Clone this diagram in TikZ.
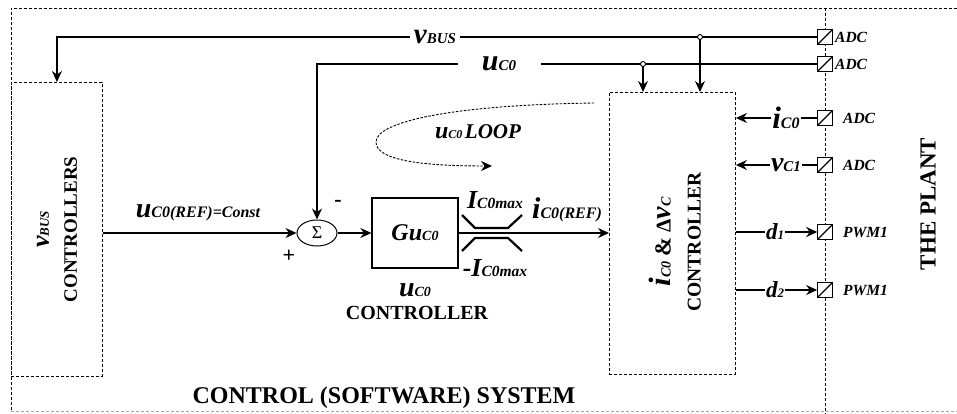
\documentclass[tikz,border=0pt]{standalone}
\usepackage{fontspec}
\setmainfont{Liberation Serif}
\usepackage{tikz}
\usetikzlibrary{positioning,arrows.meta,shapes.geometric}
% signal name: big letter + small subscript on the same baseline
\newcommand{\vlab}[4]{{\bfseries\itshape\fontsize{#3}{#3}\selectfont #1\fontsize{#4}{#4}\selectfont #2}}
\newcommand{\fs}[1]{\fontsize{#1}{#1}\selectfont}
\tikzset{
  frame/.style={dash pattern=on 3pt off 2pt, line width=0.9pt},
  ctlbox/.style={draw, dash pattern=on 3pt off 2pt, line width=0.9pt, anchor=north west, inner sep=0pt},
  blk/.style={draw, line width=1.3pt, inner sep=0pt},
  conv/.style={draw, line width=1.2pt, fill=white, minimum size=14.5pt, inner sep=0pt,
    path picture={\draw[line width=1.2pt] (path picture bounding box.south west) -- (path picture bounding box.north east);}},
  wire/.style={line width=1.3pt},
  sig/.style={wire, -{Stealth[length=11pt,width=10pt]}},
  dot/.style={circle, draw, fill=white, inner sep=0pt, minimum size=5pt, line width=0.9pt},
  lab/.style={inner sep=1pt},
  txt/.style={font=\bfseries, align=center},
  adclab/.style={font={\bfseries\itshape\fs{15.5}}, anchor=west, inner sep=0pt},
}
\begin{document}
\begin{tikzpicture}[x=1pt,y=-1pt]
  \useasboundingbox (0,0) rectangle (957,414);
  % frames
  \draw[frame] (957,8) -- (11,8) -- (11,411);
  \draw[frame, black!35] (11,411) -- (957,411);
  \draw[frame] (825,8) -- (825,414);

  % blocks
  \node[ctlbox, minimum width=91pt, minimum height=294pt] (vbus) at (11,82) {};
  \node[ctlbox, minimum width=126pt, minimum height=282pt] (ictl) at (609,92) {};
  \node[ellipse, draw, line width=1pt, minimum width=40pt, minimum height=26pt, inner sep=0pt] (sum) at (317,233) {\fs{18}Σ};
  \node[blk, minimum width=86pt, minimum height=70pt] (guc) at (415,233) {\vlab{Gu}{C0}{24}{14}};

  \node[txt, rotate=90, font={\bfseries\fontsize{19}{28}\selectfont}] (vbustxt) at (vbus.center) {\vlab{v}{BUS}{26}{13}\\CONTROLLERS};
  \node[txt, rotate=90, font={\bfseries\fontsize{19.5}{30}\selectfont}] (ictltxt) at (675,242) {\vlab{i}{C0}{31}{14} {\fs{23}\&} {\fs{21}Δ}\vlab{v}{C}{28}{14}\\CONTROLLER};

  % converters on the plant border
  \node[conv] (a1) at (825,37) {};
  \node[conv] (a2) at (825,64) {};
  \node[conv] (a3) at (825,118) {};
  \node[conv] (a4) at (825,165) {};
  \node[conv] (a5) at (825,232) {};
  \node[conv] (a6) at (825,290) {};
  \node[adclab] (l1) at (835,37) {ADC};
  \node[adclab] (l2) at (835,64) {ADC};
  \node[adclab] (l3) at (843,118) {ADC};
  \node[adclab] (l4) at (843,165) {ADC};
  \node[adclab] (l5) at (843,232) {PWM1};
  \node[adclab] (l6) at (843,290) {PWM1};

  % feedback lines
  \draw[sig] (a1.west) -| (vbus.north);
  \node[lab, fill=white, inner xsep=4pt] (vbuslab) at (435,37) {\vlab{v}{BUS}{29}{15}};
  \draw[sig] (a2.west) -| (sum.north);
  \node[lab, fill=white, minimum width=83pt] (uclab) at (499,64) {\vlab{u}{C0}{30}{15}};
  \coordinate (j1) at (700,37);
  \coordinate (j2) at (643,64);
  \draw[sig] (j1) -- (j1 |- ictl.north);
  \draw[sig] (j2) -- (j2 |- ictl.north);
  \node[dot] (p1) at (j1) {};
  \node[dot] (p2) at (j2) {};

  % forward path
  \draw[sig] (vbus.east |- sum.west) -- (sum.west);
  \draw[sig] (sum.east) -- (guc.west);
  \draw[sig] (guc.east) -- (guc.east -| ictl.west);
  \node[lab] (reflab) at (198,213) {\vlab{u}{C0(REF)=Const}{28}{16}};
  \node[lab, font={\bfseries\fs{22}}] (minus) at (338,203) {-};
  \node[lab, font={\bfseries\fs{22}}] (plus) at (289,256) {+};
  % limiter
  \draw[line width=2.2pt] (462,215) -- (475,228) -- (508,228) -- (522,215);
  \draw[line width=2.2pt] (462,251) -- (475,238) -- (508,238) -- (522,251);
  \node[lab] (imax) at (495,200) {\vlab{I}{C0max}{26}{15.5}};
  \node[lab] (imin) at (495,268) {\vlab{-I}{C0max}{26}{15.5}};
  \node[lab] (iref) at (567,210) {\vlab{i}{C0(REF)}{30}{16}};
  \node[lab] (gulab) at (415,290) {\vlab{u}{C0}{28}{14}};
  \node[txt, font={\bfseries\fs{20}}] (gutxt) at (417,313) {CONTROLLER};

  % loop
  \draw[line width=0.9pt, dash pattern=on 2.5pt off 1.5pt, -{Stealth[length=11pt,width=10pt]}]
    (594,103) .. controls (450,105) and (376,122) .. (376,142)
    .. controls (376,160) and (420,166) .. (492,166);
  \node[lab] (looplab) at (478,132) {\vlab{u}{C0}{24}{12} {\bfseries\itshape\fs{21}LOOP}};

  % plant side signals
  \node[lab] (ic) at (786,118) {\vlab{i}{C0}{31}{16}};
  \draw[wire] (a3.west) -- (ic.east);
  \draw[sig] (ic.west) -- (ic.west -| ictl.east);
  \node[lab] (vc) at (786,165) {\vlab{v}{C1}{28}{15}};
  \draw[wire] (a4.west) -- (vc.east);
  \draw[sig] (vc.west) -- (vc.west -| ictl.east);
  \node[lab] (d1) at (775,232) {\vlab{d}{1}{23}{13}};
  \draw[wire] (ictl.east |- d1.west) -- (d1.west);
  \draw[sig] (d1.east) -- (a5.west);
  \node[lab] (d2) at (775,290) {\vlab{d}{2}{23}{13}};
  \draw[wire] (ictl.east |- d2.west) -- (d2.west);
  \draw[sig] (d2.east) -- (a6.west);

  % captions
  \node[txt, font={\bfseries\fs{24}}] (systxt) at (384,398) {CONTROL (SOFTWARE) SYSTEM};
  \node[txt, rotate=90, font={\bfseries\fs{23}}] (planttxt) at (928,204) {THE PLANT};
\end{tikzpicture}
\end{document}
